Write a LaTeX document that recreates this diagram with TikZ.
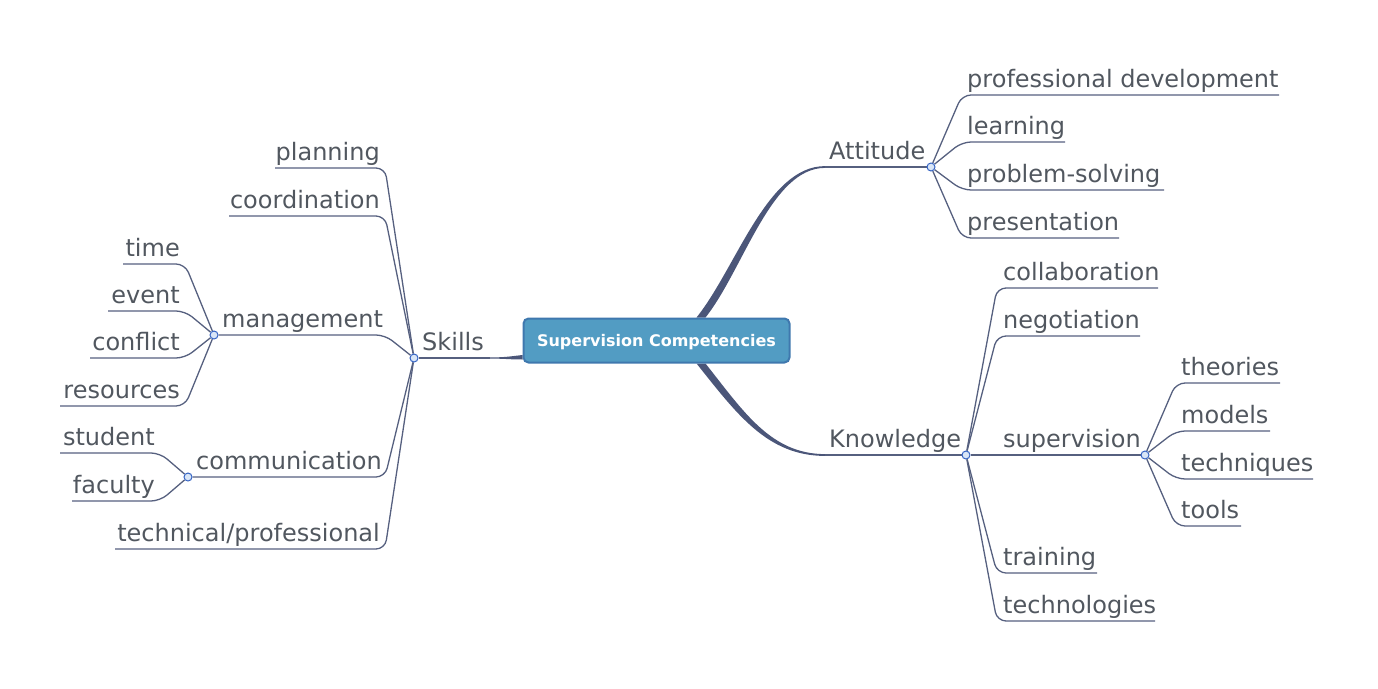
\documentclass[tikz,border=0pt]{standalone}
\usepackage{fontspec}
\setmainfont{DejaVu Sans}
\pgfdeclarelayer{background}
\pgfsetlayers{background,main}
\definecolor{txt}{HTML}{51575F}
\definecolor{br}{HTML}{4B5679}
\definecolor{thin}{HTML}{56607F}
\definecolor{cfill}{HTML}{529CC3}
\definecolor{cdraw}{HTML}{3F78AE}
\definecolor{dotfill}{HTML}{D9E6F7}
\definecolor{dotdraw}{HTML}{3564C4}
\begin{document}
\begin{tikzpicture}[x=1pt,y=-1pt,
  lbl/.style={text=txt, font=\fontsize{24}{28}\selectfont, inner sep=0pt},
  rlbl/.style={lbl, anchor=base west},
  llbl/.style={lbl, anchor=base east},
  branch/.style={draw=thin, line width=1.3, rounded corners=9},
  dot/.style={circle, draw=dotdraw, fill=dotfill, line width=1, minimum size=8, inner sep=0pt},
  central/.style={draw=cdraw, fill=cfill, line width=2, rounded corners=5, minimum width=266, minimum height=44, text depth=0pt, text=white, font=\bfseries\fontsize{16}{19}\selectfont}]
\useasboundingbox (0,0) rectangle (1378,688);

% central
\node[central] (root) at (656.5,340.5) {Supervision Competencies};

% main topics
\node[rlbl] (att) at (829,159) {Attitude};
\node[rlbl] (kno) at (829,447) {Knowledge};
\node[rlbl] (ski) at (422,350) {Skills};
\coordinate (att-s) at (825,167);
\coordinate (kno-s) at (825,455);
\coordinate (ski-s) at (490,358);
\node[dot] (attd) at (931,167) {};
\node[dot] (knod) at (966,455) {};
\node[dot] (skid) at (414,358) {};

% attitude children
\node[rlbl] (pd) at (967,87) {professional development};
\node[rlbl] (le) at (967,134) {learning};
\node[rlbl] (ps) at (967,182) {problem-solving};
\node[rlbl] (pr) at (967,230) {presentation};
\coordinate (pd-s) at (962,95);  \coordinate (pd-e) at (1279,95);
\coordinate (le-s) at (962,142); \coordinate (le-e) at (1065,142);
\coordinate (ps-s) at (962,190); \coordinate (ps-e) at (1164,190);
\coordinate (pr-s) at (962,238); \coordinate (pr-e) at (1119,238);

% knowledge children
\node[rlbl] (co) at (1003,280) {collaboration};
\node[rlbl] (ne) at (1003,328) {negotiation};
\node[rlbl] (su) at (1003,447) {supervision};
\node[rlbl] (tr) at (1003,565) {training};
\node[rlbl] (te) at (1003,613) {technologies};
\node[dot] (sud) at (1145,455) {};
\coordinate (co-s) at (997,288); \coordinate (co-e) at (1158,288);
\coordinate (ne-s) at (997,336); \coordinate (ne-e) at (1140,336);
\coordinate (tr-s) at (997,573); \coordinate (tr-e) at (1097,573);
\coordinate (te-s) at (997,621); \coordinate (te-e) at (1155,621);

% supervision children
\node[rlbl] (th) at (1181,375) {theories};
\node[rlbl] (mo) at (1181,423) {models};
\node[rlbl] (tq) at (1181,471) {techniques};
\node[rlbl] (to) at (1181,518) {tools};
\coordinate (th-s) at (1176,383); \coordinate (th-e) at (1280,383);
\coordinate (mo-s) at (1176,431); \coordinate (mo-e) at (1270,431);
\coordinate (tq-s) at (1176,479); \coordinate (tq-e) at (1313,479);
\coordinate (to-s) at (1176,526); \coordinate (to-e) at (1241,526);

% skills children
\node[llbl] (pl) at (380,160) {planning};
\node[llbl] (cd) at (380,208) {coordination};
\node[rlbl] (ma) at (222,327) {management};
\node[rlbl] (cm) at (196,469) {communication};
\node[llbl] (tp) at (380,541) {technical/professional};
\node[dot] (mad) at (214,335) {};
\node[dot] (cmd) at (188,477) {};
\coordinate (pl-s) at (385,168); \coordinate (pl-e) at (275,168);
\coordinate (cd-s) at (385,216); \coordinate (cd-e) at (229,216);
\coordinate (ma-s) at (385,335);
\coordinate (cm-s) at (385,477);
\coordinate (tp-s) at (385,549); \coordinate (tp-e) at (115,549);

% management children
\node[llbl] (ti) at (180,256) {time};
\node[llbl] (ev) at (180,303) {event};
\node[llbl] (cf) at (180,350) {conflict};
\node[llbl] (rs) at (180,398) {resources};
\coordinate (ti-s) at (185,264); \coordinate (ti-e) at (123,264);
\coordinate (ev-s) at (185,311); \coordinate (ev-e) at (108,311);
\coordinate (cf-s) at (185,358); \coordinate (cf-e) at (90,358);
\coordinate (rs-s) at (185,406); \coordinate (rs-e) at (60,406);

% communication children
\node[llbl] (st) at (155,445) {student};
\node[llbl] (fa) at (155,493) {faculty};
\coordinate (st-s) at (160,453); \coordinate (st-e) at (60,453);
\coordinate (fa-s) at (160,501); \coordinate (fa-e) at (72,501);

\begin{pgfonlayer}{background}
  % thick tapered main branches
  \fill[br] ([xshift=40]root.north) .. controls +(40,-50) and +(-58,0) .. ([yshift=0.9]att-s)
     -- ([yshift=-0.9]att-s) .. controls +(-54,0) and +(38,-48) .. ([xshift=49]root.north) -- cycle;
  \fill[br] ([xshift=40]root.south) .. controls +(40,50) and +(-58,0) .. ([yshift=-0.9]kno-s)
     -- ([yshift=0.9]kno-s) .. controls +(-54,0) and +(38,48) .. ([xshift=49]root.south) -- cycle;
  \fill[br] ([yshift=-14.5]root.west) .. controls +(-13,1.5) and +(15,0) .. ([yshift=0.6]ski-s)
     -- ([yshift=-0.6]ski-s) .. controls +(15,0) and +(-13,0) .. ([yshift=-19]root.west) -- cycle;
  % underlines of main topics
  \draw[branch] (att-s) -- (attd);
  \draw[branch] (kno-s) -- (knod);
  \draw[branch] (ski-s) -- (skid);
  % attitude
  \draw[branch] (attd) -- (pd-s) -- (pd-e);
  \draw[branch] (attd) -- (le-s) -- (le-e);
  \draw[branch] (attd) -- (ps-s) -- (ps-e);
  \draw[branch] (attd) -- (pr-s) -- (pr-e);
  % knowledge
  \draw[branch] (knod) -- (co-s) -- (co-e);
  \draw[branch] (knod) -- (ne-s) -- (ne-e);
  \draw[branch] (knod) -- (sud);
  \draw[branch] (knod) -- (tr-s) -- (tr-e);
  \draw[branch] (knod) -- (te-s) -- (te-e);
  % supervision
  \draw[branch] (sud) -- (th-s) -- (th-e);
  \draw[branch] (sud) -- (mo-s) -- (mo-e);
  \draw[branch] (sud) -- (tq-s) -- (tq-e);
  \draw[branch] (sud) -- (to-s) -- (to-e);
  % skills
  \draw[branch] (skid) -- (pl-s) -- (pl-e);
  \draw[branch] (skid) -- (cd-s) -- (cd-e);
  \draw[branch] (skid) -- (ma-s) -- (mad);
  \draw[branch] (skid) -- (cm-s) -- (cmd);
  \draw[branch] (skid) -- (tp-s) -- (tp-e);
  % management
  \draw[branch] (mad) -- (ti-s) -- (ti-e);
  \draw[branch] (mad) -- (ev-s) -- (ev-e);
  \draw[branch] (mad) -- (cf-s) -- (cf-e);
  \draw[branch] (mad) -- (rs-s) -- (rs-e);
  % communication
  \draw[branch] (cmd) -- (st-s) -- (st-e);
  \draw[branch] (cmd) -- (fa-s) -- (fa-e);
\end{pgfonlayer}
\end{tikzpicture}
\end{document}
